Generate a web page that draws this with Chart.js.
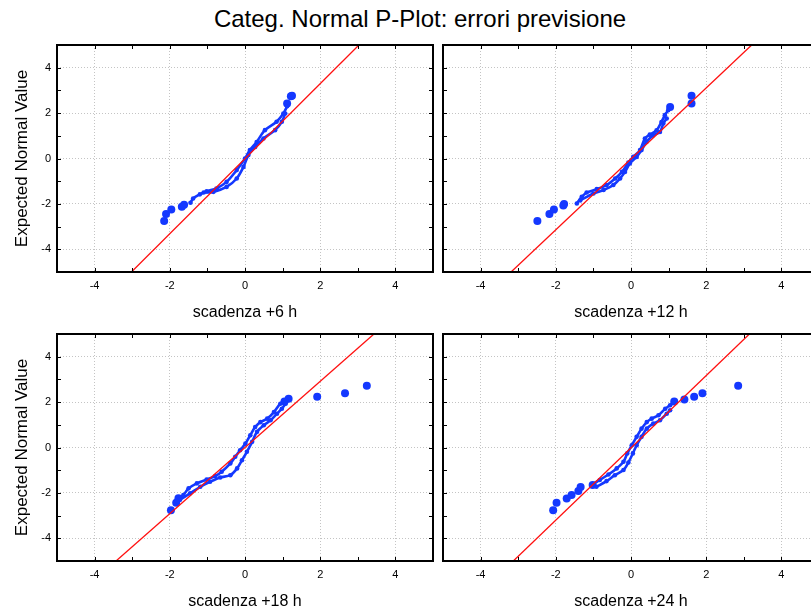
<!DOCTYPE html>
<html>
<head>
<meta charset="utf-8">
<title>Categ. Normal P-Plot</title>
<script src="https://cdn.jsdelivr.net/npm/chart.js@4.4.1/dist/chart.umd.min.js"></script>
<style>
  html, body { margin: 0; padding: 0; background: #fff; overflow: hidden; width: 811px; height: 613px; }
  #title { position: absolute; left: 0; top: 5px; width: 840px; text-align: center;
           font: 24px "Liberation Sans", Arial, sans-serif; color: #000; }
  canvas { position: absolute; }
</style>
</head>
<body>
<div id="title">Categ. Normal P-Plot: errori previsione</div>
<canvas id="p6"  width="440" height="292" style="left:0;top:30px"></canvas>
<canvas id="p12" width="390" height="292" style="left:436px;top:30px"></canvas>
<canvas id="p18" width="440" height="292" style="left:0;top:319px"></canvas>
<canvas id="p24" width="390" height="292" style="left:436px;top:319px"></canvas>

<script>
const axisTicks = [-4, -2, 0, 2, 4];

// +6 h
const upper6 = [[-1.45,-1.95],[-1.38,-1.76],[-1.2,-1.58],[-1.02,-1.44],[-0.76,-1.32],[-0.49,-1.03],[-0.22,-0.51],[0,0],[0.13,0.37],[0.31,0.73],[0.53,1.25],[0.84,1.62],[1.02,1.98],[1.12,2.3]];
const lower6 = [[-1.1,-1.5],[-0.84,-1.47],[-0.49,-1.25],[-0.22,-0.88],[-0.04,-0.37],[0.09,0.15],[0.27,0.51],[0.49,0.88],[0.8,1.25],[0.98,1.62],[1.07,1.98]];
const tail6  = [[-2.15,-2.75],[-2.1,-2.44],[-1.96,-2.25],[-1.68,-2.13],[-1.62,-2.04],[1.12,2.42],[1.25,2.76],[1.22,2.74]];
const fit6   = [[-3.02,-5],[3.03,5]];

// +12 h
const upper12 = [[-1.44,-1.98],[-1.31,-1.69],[-1.18,-1.5],[-0.91,-1.35],[-0.65,-1.17],[-0.42,-0.88],[-0.24,-0.59],[-0.07,-0.18],[0.06,0.07],[0.24,0.37],[0.37,0.88],[0.5,1.05],[0.68,1.24],[0.81,1.61],[0.9,1.91],[0.99,2.13],[1.03,2.27]];
const lower12 = [[-1.35,-1.85],[-1.0,-1.54],[-0.73,-1.39],[-0.47,-1.17],[-0.29,-0.88],[-0.16,-0.59],[-0.03,-0.22],[0.15,0.07],[0.28,0.37],[0.41,0.73],[0.59,1.02],[0.77,1.17],[0.86,1.54],[0.95,1.76]];
const tail12  = [[-2.49,-2.75],[-2.17,-2.44],[-2.05,-2.25],[-1.8,-2.07],[-1.78,-2.0],[1.61,2.76],[1.61,2.42],[1.04,2.27]];
const fit12   = [[-3.19,-5],[3.21,5]];

// +18 h
const upper18 = [[-1.81,-2.39],[-1.64,-2.1],[-1.5,-1.8],[-1.28,-1.58],[-1.02,-1.41],[-0.79,-1.26],[-0.62,-1.07],[-0.39,-0.7],[-0.26,-0.41],[-0.13,-0.12],[0.01,0.17],[0.14,0.54],[0.27,0.9],[0.41,1.12],[0.59,1.27],[0.77,1.56],[0.94,1.93],[1.08,2.07]];
const lower18 = [[-1.73,-2.3],[-1.46,-2.02],[-1.19,-1.73],[-0.93,-1.51],[-0.66,-1.32],[-0.39,-1.22],[-0.21,-0.92],[-0.08,-0.56],[0.05,-0.19],[0.19,0.25],[0.32,0.69],[0.5,0.98],[0.68,1.2],[0.85,1.49],[0.98,1.71],[1.08,1.93]];
const tail18  = [[-1.97,-2.76],[-1.83,-2.43],[-1.77,-2.24],[1.92,2.24],[2.66,2.39],[3.24,2.72],[1.16,2.15],[1.05,2.03]];
const fit18   = [[-3.43,-5],[3.43,5]];

// +24 h
const upper24 = [[-1.05,-1.65],[-0.83,-1.43],[-0.6,-1.19],[-0.38,-0.92],[-0.2,-0.63],[-0.1,-0.26],[0.02,0.1],[0.15,0.47],[0.28,0.83],[0.42,1.12],[0.55,1.27],[0.73,1.42],[0.91,1.71],[1.04,1.86],[1.12,1.98]];
const lower24 = [[-0.92,-1.73],[-0.65,-1.48],[-0.43,-1.22],[-0.2,-0.99],[-0.07,-0.66],[0.05,-0.26],[0.15,0.1],[0.28,0.47],[0.42,0.83],[0.59,1.05],[0.77,1.2],[0.95,1.49],[1.04,1.64]];
const tail24  = [[-2.07,-2.76],[-1.98,-2.43],[-1.71,-2.25],[-1.58,-2.09],[-1.4,-1.92],[-1.34,-1.74],[-1.02,-1.65],[1.15,2.03],[1.42,2.12],[1.68,2.24],[1.9,2.39],[2.85,2.72]];
const fit24   = [[-3.13,-5],[3.15,5]];

const BLUE = '#1438ff';
const RED = '#ff1010';
const FONT = '"Liberation Sans", Arial, sans-serif';
Chart.defaults.font.family = FONT;
Chart.defaults.color = '#000';

const pts = arr => arr.map(([x, y]) => ({ x, y }));

// black frame + small inward ticks at every unit
const framePlugin = {
  id: 'frame',
  afterDraw(chart) {
    const { ctx, chartArea: a, scales: { x, y } } = chart;
    ctx.save();
    ctx.strokeStyle = '#000';
    ctx.lineWidth = 1;
    ctx.beginPath();
    for (let v = -4; v <= 4; v++) {
      const px = Math.round(x.getPixelForValue(v)) + 0.5;
      ctx.moveTo(px, a.bottom); ctx.lineTo(px, a.bottom - 4);
      ctx.moveTo(px, a.top); ctx.lineTo(px, a.top + 4);
      const py = Math.round(y.getPixelForValue(v)) + 0.5;
      ctx.moveTo(a.left, py); ctx.lineTo(a.left + 4, py);
      ctx.moveTo(a.right, py); ctx.lineTo(a.right - 4, py);
    }
    ctx.stroke();
    ctx.lineWidth = 2;
    ctx.strokeRect(a.left, a.top, a.right - a.left, a.bottom - a.top);
    ctx.restore();
  }
};

function gridColor(c) {
  return axisTicks.includes(c.tick.value) ? '#c4c4c4' : 'transparent';
}

function makePanel(id, upper, lower, tail, fit, xTitle, leftSide) {
  new Chart(document.getElementById(id), {
    type: 'scatter',
    data: {
      datasets: [
        { data: pts(fit), showLine: true, borderColor: RED, borderWidth: 1.3, pointRadius: 0, order: 0 },
        { data: pts(upper), showLine: true, tension: 0.3, borderColor: BLUE, borderWidth: 2.6,
          pointRadius: 2.3, pointBackgroundColor: BLUE, pointBorderWidth: 0, order: 1 },
        { data: pts(lower), showLine: true, tension: 0.3, borderColor: BLUE, borderWidth: 2.6,
          pointRadius: 2.3, pointBackgroundColor: BLUE, pointBorderWidth: 0, order: 1 },
        { data: pts(tail), pointRadius: 4, pointBackgroundColor: BLUE, pointBorderWidth: 0, order: 2 }
      ]
    },
    options: {
      responsive: false,
      animation: false,
      layout: { padding: { top: 15, right: 7, left: 0, bottom: 0 } },
      plugins: { legend: { display: false }, tooltip: { enabled: false } },
      scales: {
        x: {
          type: 'linear', min: -5, max: 5,
          ticks: { stepSize: 1, autoSkip: false, padding: 7, font: { size: 11 },
                   callback: v => axisTicks.includes(v) ? String(v) : '' },
          grid: { color: gridColor, drawTicks: false },
          border: { display: false, dash: [1, 2] },
          title: { display: true, text: xTitle, font: { size: 16 }, padding: 0 },
          afterFit: s => { s.height = 50; }
        },
        y: {
          type: 'linear', min: -5, max: 5,
          ticks: { display: leftSide, stepSize: 1, autoSkip: false, padding: 6, font: { size: 11 },
                   callback: v => axisTicks.includes(v) ? String(v) : '' },
          grid: { color: gridColor, drawTicks: false },
          border: { display: false, dash: [1, 2] },
          title: { display: leftSide, text: 'Expected Normal Value', font: { size: 17 }, padding: { top: 12 } },
          afterFit: s => { s.width = leftSide ? 57 : 7; }
        }
      }
    },
    plugins: [framePlugin]
  });
}

makePanel('p6',  upper6,  lower6,  tail6,  fit6,  'scadenza +6 h',  true);
makePanel('p12', upper12, lower12, tail12, fit12, 'scadenza +12 h', false);
makePanel('p18', upper18, lower18, tail18, fit18, 'scadenza +18 h', true);
makePanel('p24', upper24, lower24, tail24, fit24, 'scadenza +24 h', false);
</script>
</body>
</html>
